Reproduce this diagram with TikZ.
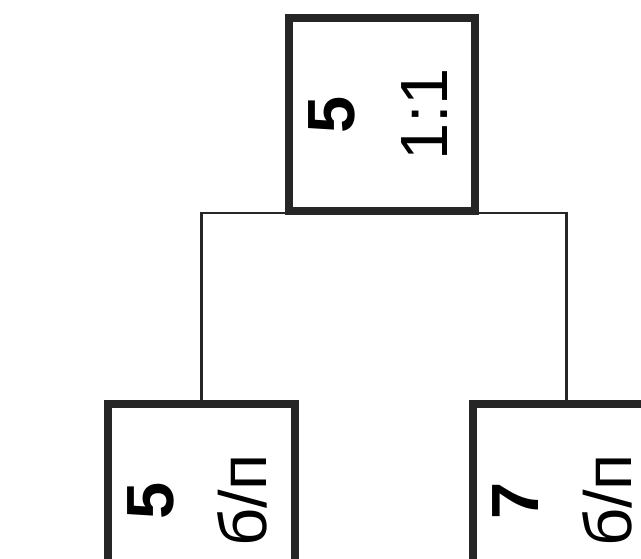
\documentclass[tikz,border=0pt]{standalone}
\usepackage{fontspec}
\setmainfont{Liberation Sans}
\usepackage{graphicx}
\usepackage{tikz}
\usetikzlibrary{positioning}

% rotated two-line label: bold number, then note
\newcommand{\cardtext}[2]{\rotatebox{90}{\fontsize{38}{53}\selectfont\begin{tabular}{@{}c@{}}\textbf{#1}\\#2\end{tabular}}}

\begin{document}
\begin{tikzpicture}[
    x=0.02cm, y=-0.02cm,
    card/.style={draw=black!85, line width=4.5pt, fill=white, minimum width=3.7cm, minimum height=3.86cm, inner sep=0pt},
    link/.style={draw=black!85, line width=1.4pt}
]
    \useasboundingbox (0,0) rectangle (641,558);
    \clip (0,0) rectangle (641,558);

    \node[card] (root) at (382,114.5) {\cardtext{5}{1:1}};
    \node[card] (left) at (201.5,500.5) {\cardtext{5}{б/п}};
    \node[card] (right) at (566.5,500.5) {\cardtext{7}{б/п}};

    % Link - forks just under the root card
    \coordinate (fork) at (382,213);
    \draw[link] (left.north) |- (fork) -| (right.north);
\end{tikzpicture}
\end{document}
